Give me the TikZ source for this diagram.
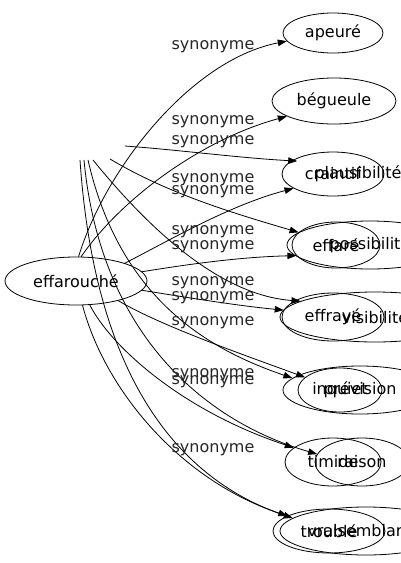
\documentclass[tikz,border=0pt]{standalone}
\usepackage{fontspec}
\setmainfont{DejaVu Sans}
\usepackage{tikz}
\usetikzlibrary{arrows.meta}
\usetikzlibrary{shapes.geometric}

\tikzset{
  word/.style={ellipse,draw,inner sep=0pt,line width=0.8pt,font=\fontsize{16}{19}\selectfont},
  lbl/.style={inner sep=0pt,text=black!85,font=\fontsize{16}{19}\selectfont},
  syn/.style={-{Triangle[length=9pt,width=6.5pt]},line width=0.8pt}
}

\begin{document}
\begin{tikzpicture}[x=1pt,y=-1pt]
  \clip (0,0) rectangle (401,563);
  % first graph
  \node[word,minimum width=142pt,minimum height=48pt] (effa) at (76,281) {effarouché};
  \node[word,minimum width=100pt,minimum height=40pt] (apeure) at (333,33) {apeuré};
  \node[word,minimum width=124pt,minimum height=46pt] (begueule) at (334,101) {bégueule};
  \node[word,minimum width=102pt,minimum height=44pt] (craintif) at (333,174) {craintif};
  \node[word,minimum width=88pt,minimum height=46pt] (effare) at (336,245) {effaré};
  \node[word,minimum width=102pt,minimum height=48pt] (effraye) at (333,317) {effrayé};
  \node[word,minimum width=84pt,minimum height=44pt] (inquiet) at (340,390) {inquiet};
  \node[word,minimum width=96pt,minimum height=48pt] (timide) at (333,462) {timide};
  \node[word,minimum width=112pt,minimum height=44pt] (trouble) at (329,531) {troublé};
  % second graph, drawn over the first
  \node[word,draw=none,minimum width=148pt,minimum height=44pt] (plausib) at (358,174) {plausibilité};
  \node[word,minimum width=166pt,minimum height=48pt] (possib) at (370,245) {possibilité};
  \node[word,minimum width=190pt,minimum height=50pt] (visib) at (375,317) {visibilité};
  \node[word,minimum width=154pt,minimum height=48pt] (prevision) at (360,390) {prévision};
  \node[word,minimum width=94pt,minimum height=48pt] (raison) at (362,462) {raison};
  \node[word,minimum width=172pt,minimum height=48pt] (vraisemb) at (366,531) {vraisemblance};
  \coordinate (o1) at (125,146);
  \coordinate (o2) at (110,159);
  \coordinate (o3) at (93,160);
  \coordinate (o4) at (88,160);
  \coordinate (o5) at (84,160);
  \coordinate (o6) at (80,160);

  % edges
  \draw[syn] (effa.84) .. controls (105,170) and (190,60) .. (apeure.190);
  \draw[syn] (effa.78) .. controls (120,200) and (200,140) .. (begueule.198);
  \draw[syn] (effa.20) .. controls (170,240) and (230,205) .. (craintif.200);
  \draw[syn] (effa.8) .. controls (190,264) and (240,257) .. (effare.195);
  \draw[syn] (effa.-8) .. controls (190,298) and (240,306) .. (effraye.172);
  \draw[syn] (effa.-25) .. controls (160,325) and (230,350) .. (inquiet.160);
  \draw[syn] (effa.-60) .. controls (110,345) and (180,410) .. (timide.160);
  \draw[syn] (effa.-75) .. controls (105,390) and (180,480) .. (trouble.160);
  \draw[syn] (o1) .. controls (180,150) and (240,158) .. (plausib.168);
  \draw[syn] (o2) .. controls (170,195) and (240,215) .. (possib.170);
  \draw[syn] (o3) .. controls (150,230) and (220,295) .. (visib.168);
  \draw[syn] (o4) .. controls (120,300) and (210,350) .. (prevision.170);
  \draw[syn] (o5) .. controls (100,330) and (200,420) .. (raison.170);
  \draw[syn] (o6) .. controls (95,380) and (180,480) .. (vraisemb.170);

  % edge labels
  \foreach \y [count=\i] in {47,122,142,180,192,232,247,283,298,323,375,382,450}
    \node[lbl] (syn\i) at (213,\y) {synonyme};
\end{tikzpicture}
\end{document}
